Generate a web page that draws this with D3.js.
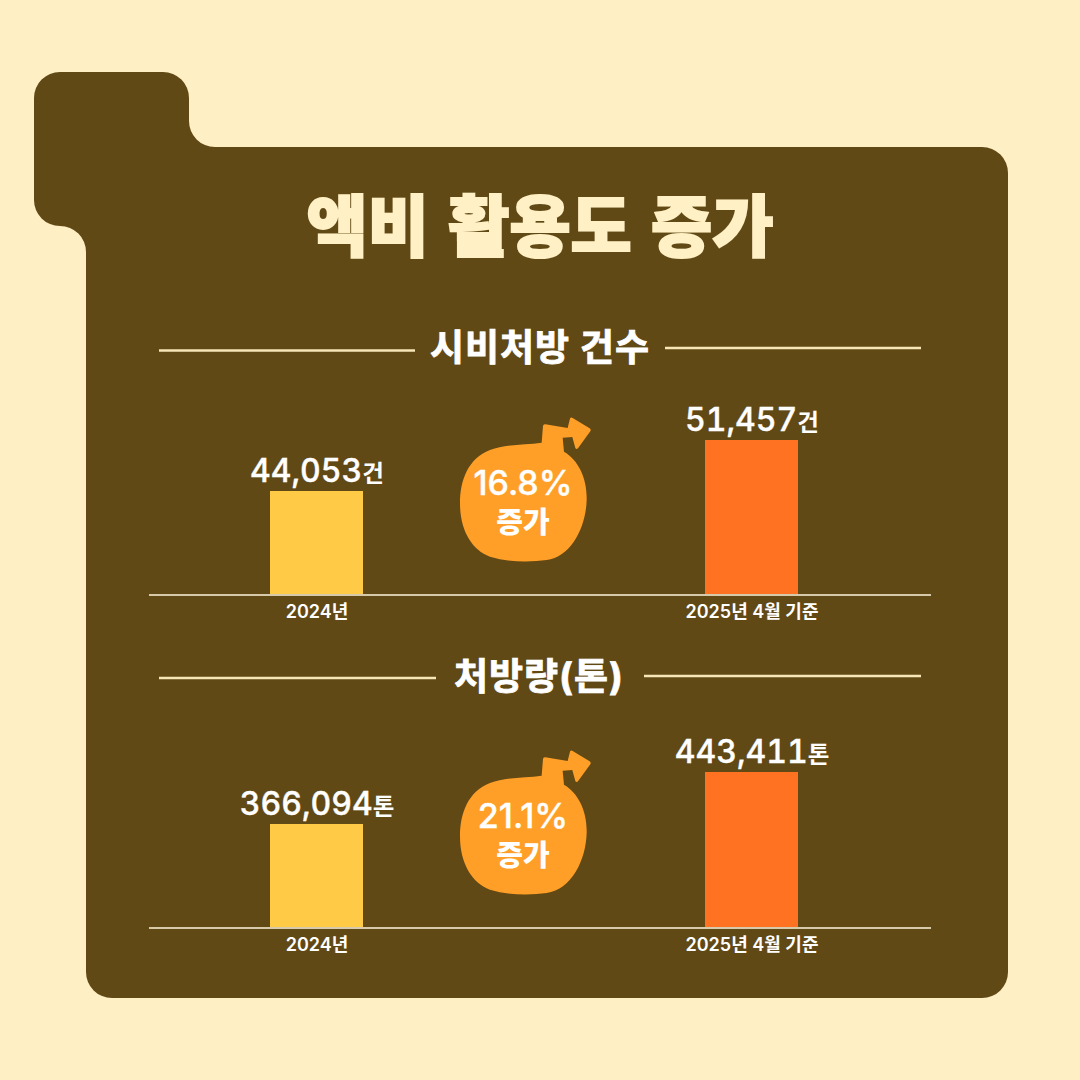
<!DOCTYPE html>
<html lang="ko">
<head>
<meta charset="utf-8">
<script src="https://cdnjs.cloudflare.com/ajax/libs/d3/7.8.5/d3.min.js"></script>
<style>
html,body{margin:0;padding:0;background:#FFEFC4}
svg{display:block}
text{font-family:Inter,"Noto Sans CJK KR",sans-serif}
.tnum{font-feature-settings:"tnum" 1}
</style>
</head>
<body>
<script>
// Figures for the two panels
const years = ["2024년", "2025년 4월 기준"];
const countValues = [44053, 51457];
const tonValues = [366094, 443411];
const increases = ["16.8%", "21.1%"];
const sectionTitles = ["시비처방 건수", "처방량(톤)"];
const units = ["건", "톤"];
const mainTitle = "액비 활용도 증가";

const W = 1080, H = 1080;
const svg = d3.select("body").append("svg").attr("width", W).attr("height", H);
svg.append("rect").attr("width", W).attr("height", H).attr("fill", "#FFEFC4");

// Brown card with the stepped tab in its top-left corner
const p = d3.path();
p.moveTo(60, 72);
p.lineTo(163, 72);
p.arcTo(189, 72, 189, 98, 26);
p.lineTo(189, 121);
p.arcTo(189, 147, 215, 147, 26);
p.lineTo(982, 147);
p.arcTo(1008, 147, 1008, 173, 26);
p.lineTo(1008, 972);
p.arcTo(1008, 998, 982, 998, 26);
p.lineTo(112, 998);
p.arcTo(86, 998, 86, 972, 26);
p.lineTo(86, 252);
p.arcTo(86, 226, 60, 226, 26);
p.arcTo(34, 226, 34, 200, 26);
p.lineTo(34, 98);
p.arcTo(34, 72, 60, 72, 26);
p.closePath();
svg.append("path").attr("d", p.toString()).attr("fill", "#614916");

svg.append("text")
  .attr("x", 540).attr("y", 251)
  .attr("text-anchor", "middle")
  .attr("font-size", 66.5).attr("font-weight", 900)
  .attr("word-spacing", 6)
  .attr("stroke", "#FFF0C6").attr("stroke-width", 2)
  .attr("fill", "#FFF0C6")
  .attr("font-family", "'Noto Sans CJK KR',sans-serif")
  .text(mainTitle);

const x = d3.scalePoint().domain(years).range([316.5, 751.5]);
const barW = 93;
const colors = ["#FFCB47", "#FF7222"];

// Balloon outline with a rising arrow, in its own local units
const balloon = "M305 128 L309 78 Q310 72 316 73 L383 84 L390 56 Q392 50 398 54 L449 85 Q454 89 451 94 L414 145 Q409 150 406 144 L397 111 L368 113 L372 155 " +
  "C415 180 442 235 440 300 C438 380 395 470 320 480 C270 487 205 487 150 470 C95 450 60 390 60 310 C60 240 85 175 150 150 C195 132 255 135 305 128 Z";

function panel(cfg) {
  const g = svg.append("g");
  const y = d3.scaleLinear().domain(cfg.domain).range([cfg.base, cfg.top]);

  // Heading with a rule on each side
  g.append("text").attr("x", cfg.titleX).attr("y", cfg.titleY)
    .attr("text-anchor", "middle").attr("font-size", 37).attr("font-weight", 700)
    .attr("letter-spacing", 1)
    .attr("fill", "#fff").attr("stroke", "#fff").attr("stroke-width", 0.8)
    .attr("font-family", "Inter,'Noto Sans CJK KR',sans-serif")
    .text(cfg.title);
  cfg.rules.forEach(r => g.append("line")
    .attr("x1", r[0]).attr("x2", r[1]).attr("y1", r[2]).attr("y2", r[2])
    .attr("stroke", "#F7E6B8").attr("stroke-width", 2.4));

  g.selectAll("rect.bar").data(cfg.values).join("rect")
    .attr("class", "bar")
    .attr("x", (d, i) => x(years[i]) - barW / 2)
    .attr("width", barW)
    .attr("y", d => y(d))
    .attr("height", d => cfg.base - y(d))
    .attr("fill", (d, i) => colors[i]);

  // Baseline and year labels come from the axis
  const axis = g.append("g").attr("transform", `translate(0,${cfg.base + 1})`)
    .call(d3.axisBottom(x).tickSize(0).tickPadding(10));
  axis.select(".domain").remove();
  axis.append("line").attr("x1", 149).attr("x2", 931)
    .attr("stroke", "#FFF6DC").attr("stroke-width", 1.6);
  axis.selectAll(".tick text")
    .attr("font-size", 18).attr("font-weight", 600).attr("fill", "#fff")
    .attr("font-family", "Inter,'Noto Sans CJK KR',sans-serif");

  // Value labels above the bars
  const labels = g.selectAll("text.val").data(cfg.values).join("text")
    .attr("class", "val tnum")
    .attr("x", (d, i) => x(years[i]) + 0.5)
    .attr("y", d => y(d) - 9)
    .attr("text-anchor", "middle")
    .attr("fill", "#fff");
  labels.append("tspan").attr("font-size", 32).attr("font-weight", 500)
    .attr("stroke", "#fff").attr("stroke-width", 0.4)
    .text(d => d3.format(",")(d));
  labels.append("tspan").attr("font-size", 23.5).attr("font-weight", 700)
    .attr("font-family", "'Noto Sans CJK KR',sans-serif")
    .text(cfg.unit);

  // Increase badge between the bars
  const b = g.append("g").attr("transform", `translate(440,${cfg.base - 194})`);
  b.append("path").attr("d", balloon).attr("transform", "scale(0.3333)").attr("fill", "#FF9F27");
  b.append("text").attr("x", cfg.pctX).attr("y", 95)
    .attr("text-anchor", "middle").attr("font-size", 34).attr("font-weight", 500)
    .attr("fill", "#fff").attr("stroke", "#fff").attr("stroke-width", 0.4)
    .text(cfg.pct);
  b.append("text").attr("x", 83).attr("y", 133)
    .attr("text-anchor", "middle").attr("font-size", 29).attr("font-weight", 800)
    .attr("fill", "#fff")
    .attr("font-family", "'Noto Sans CJK KR',sans-serif")
    .text("증가");
}

panel({
  values: countValues, domain: [29100, 51457], base: 594, top: 440,
  title: sectionTitles[0], titleX: 540, titleY: 361,
  rules: [[159, 415, 350.5], [665, 921, 348]],
  unit: units[0], pct: increases[0], pctX: 83
});
panel({
  values: tonValues, domain: [212900, 443411], base: 927, top: 772,
  title: sectionTitles[1], titleX: 539, titleY: 690,
  rules: [[159, 436, 678], [644, 921, 676]],
  unit: units[1], pct: increases[1], pctX: 83
});
</script>
</body>
</html>
